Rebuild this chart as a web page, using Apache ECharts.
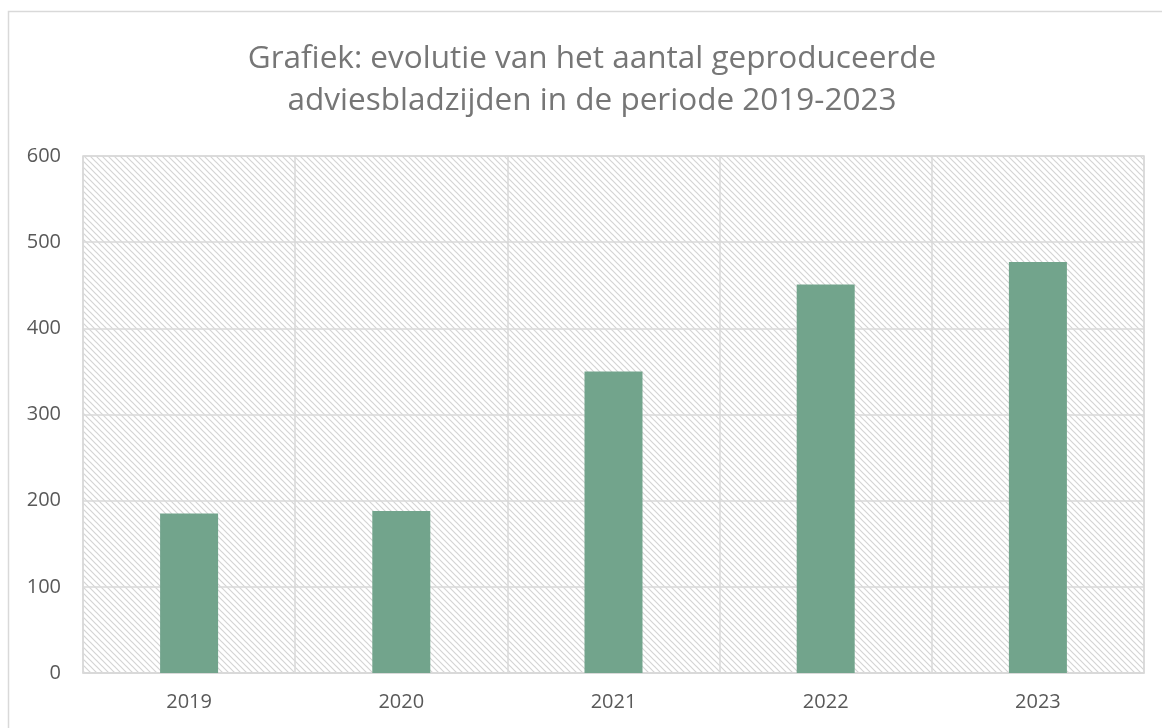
<!DOCTYPE html>
<html>
<head>
<meta charset="utf-8">
<script src="https://cdn.jsdelivr.net/npm/echarts@6/dist/echarts.min.js"></script>
<style>
  html, body { margin: 0; padding: 0; background: #fff; }
  #chart { width: 1162px; height: 728px; }
</style>
</head>
<body>
<div id="chart"></div>
<script>
const years = ['2019', '2020', '2021', '2022', '2023']
const pages = [185, 188, 350, 451, 477]
const yTicks = [0, 100, 200, 300, 400, 500, 600]
const titleText = 'Grafiek: evolutie van het aantal geproduceerde\nadviesbladzijden in de periode 2019-2023'

// diagonal hatch for the plot background
function hatch() {
  const c = document.createElement('canvas')
  c.width = 6
  c.height = 6
  const ctx = c.getContext('2d')
  ctx.fillStyle = '#fff'
  ctx.fillRect(0, 0, 6, 6)
  ctx.strokeStyle = '#d4d4d4'
  ctx.lineWidth = 1.2
  ctx.beginPath()
  ctx.moveTo(0, 0); ctx.lineTo(6, 6)
  ctx.moveTo(-3, 3); ctx.lineTo(3, 9)
  ctx.moveTo(3, -3); ctx.lineTo(9, 3)
  ctx.stroke()
  return c
}

const chart = echarts.init(document.getElementById('chart'))

chart.setOption({
  backgroundColor: '#fff',
  animation: false,
  graphic: [{
    type: 'rect',
    shape: { x: 8.5, y: 11.5, width: 1170, height: 730 },
    style: { fill: 'none', stroke: '#d9d9d9', lineWidth: 1.5 },
    silent: true
  }, {
    // title centred on the outer frame, which runs past the right edge
    type: 'text',
    x: 592,
    y: 38,
    silent: true,
    style: {
      text: titleText,
      align: 'center',
      verticalAlign: 'top',
      fill: '#767676',
      fontFamily: 'Open Sans',
      fontSize: 31.5,
      lineHeight: 42
    }
  }],
  grid: {
    left: 83,
    right: 18,
    top: 156,
    bottom: 55,
    show: true,
    backgroundColor: { image: hatch(), repeat: 'repeat' },
    borderColor: '#d9d9d9',
    borderWidth: 1.5
  },
  xAxis: {
    type: 'category',
    data: years,
    axisLine: { lineStyle: { color: '#d9d9d9', width: 1.5 } },
    axisTick: { show: false },
    axisLabel: { color: '#595959', fontSize: 20, fontFamily: 'Open Sans', margin: 19 },
    splitLine: { show: true, lineStyle: { color: '#d9d9d9', width: 1.5 } }
  },
  yAxis: {
    type: 'value',
    min: yTicks[0],
    max: yTicks[yTicks.length - 1],
    interval: 100,
    axisLine: { show: false },
    axisTick: { show: false },
    axisLabel: { color: '#595959', fontSize: 20, fontFamily: 'Open Sans', margin: 22 },
    splitLine: { lineStyle: { color: '#d9d9d9', width: 1.5 } }
  },
  series: [{
    type: 'bar',
    data: pages,
    barWidth: 58,
    itemStyle: { color: '#72a48c' }
  }]
})
</script>
</body>
</html>
